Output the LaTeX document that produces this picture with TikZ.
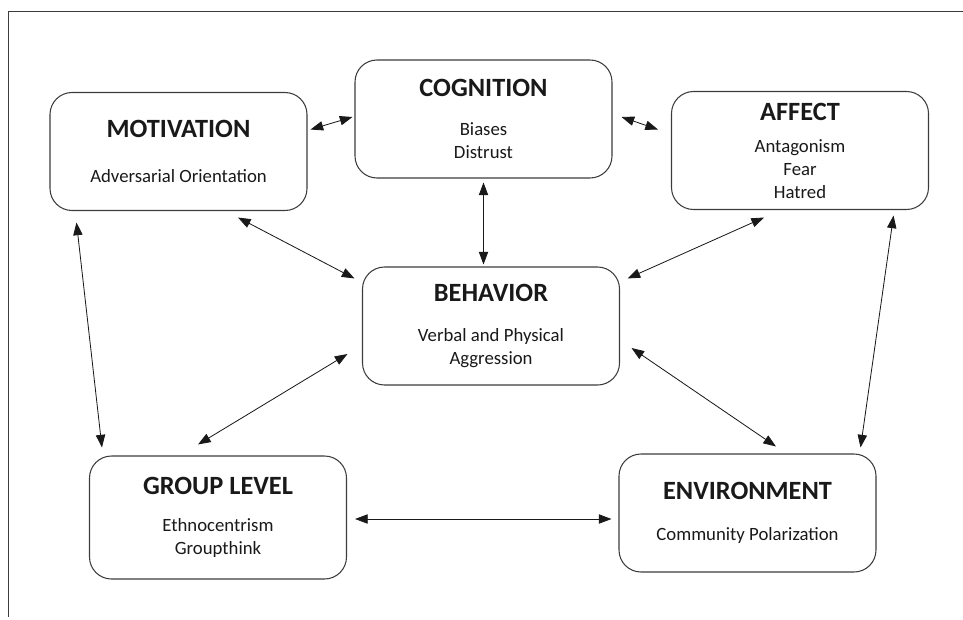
\documentclass[tikz,border=0pt]{standalone}
\usepackage{fontspec}
\setmainfont{Carlito}
\usepackage{xcolor}
\definecolor{boxline}{RGB}{60,60,60}
\definecolor{inkdark}{RGB}{25,25,25}
\usetikzlibrary{arrows.meta,calc}
\newcommand{\boxtext}[3]{{\fontsize{22.5}{27}\selectfont\bfseries #1}\\[#2]#3}

\begin{document}
\begin{tikzpicture}[
  x=0.3mm, y=-0.3mm,
  box/.style={draw=boxline, line width=0.9pt, rounded corners=6.6mm, minimum width=77.1mm, minimum height=35.4mm, align=center, inner sep=0pt, text=inkdark, font=\fontsize{16}{19.5}\selectfont},
  arrow/.style={{Triangle[length=3.8mm,width=2.8mm]}-{Triangle[length=3.8mm,width=2.8mm]}, line width=0.7pt, color=inkdark},
  frame/.style={draw=boxline, line width=0.8pt}
]
\useasboundingbox (0,0) rectangle (963,619);
\draw[frame] (963,11) -- (8,11) -- (8,617);

\node[box] (mot) at (178.5,151.5) {\boxtext{MOTIVATION}{18.5pt}{Adversarial Orientation}};
\node[box] (cog) at (483.5,119) {\boxtext{COGNITION}{14pt}{Biases\\Distrust}};
\node[box] (aff) at (800,150.5) {\boxtext{AFFECT}{8pt}{Antagonism\\Fear\\Hatred}};
\node[box] (beh) at (491,326) {\boxtext{BEHAVIOR}{14pt}{Verbal and Physical\\Aggression}};
\node[box, minimum height=36.9mm] (grp) at (218,517.5) {\boxtext{GROUP LEVEL}{12.5pt}{Ethnocentrism\\Groupthink}};
\node[box] (env) at (747.5,513) {\boxtext{ENVIRONMENT}{16pt}{Community Polarization}};

\draw[arrow] ($(mot.east)+(3,-22)$) -- ($(cog.west)+(-2,-2)$);
\draw[arrow] ($(cog.east)+(9,-2)$) -- ($(aff.west)+(-13,-21)$);
\draw[arrow] ($(cog.south)+(0,4)$) -- ($(cog.south |- beh.north)+(0,-2)$);
\draw[arrow] ($(mot.south)+(59.5,6.5)$) -- ($(beh.north west)+(-7.5,12)$);
\draw[arrow] ($(aff.south)+(-36,7.5)$) -- ($(beh.north east)+(7.5,12)$);
\draw[arrow] ($(mot.south west)+(27,11.5)$) -- ($(grp.north west)+(13,-8)$);
\draw[arrow] ($(grp.north)+(-20,-11)$) -- ($(beh.west)+(-14.5,28)$);
\draw[arrow] ($(beh.east)+(11.5,22)$) -- ($(env.north)+(28.5,-7)$);
\draw[arrow] ($(aff.south east)+(-35.5,5.5)$) -- ($(env.north east)+(-16,-6)$);
\draw[arrow] ($(grp.east)+(8,1.5)$) -- ($(env.west)+(-7,6)$);
\end{tikzpicture}
\end{document}
